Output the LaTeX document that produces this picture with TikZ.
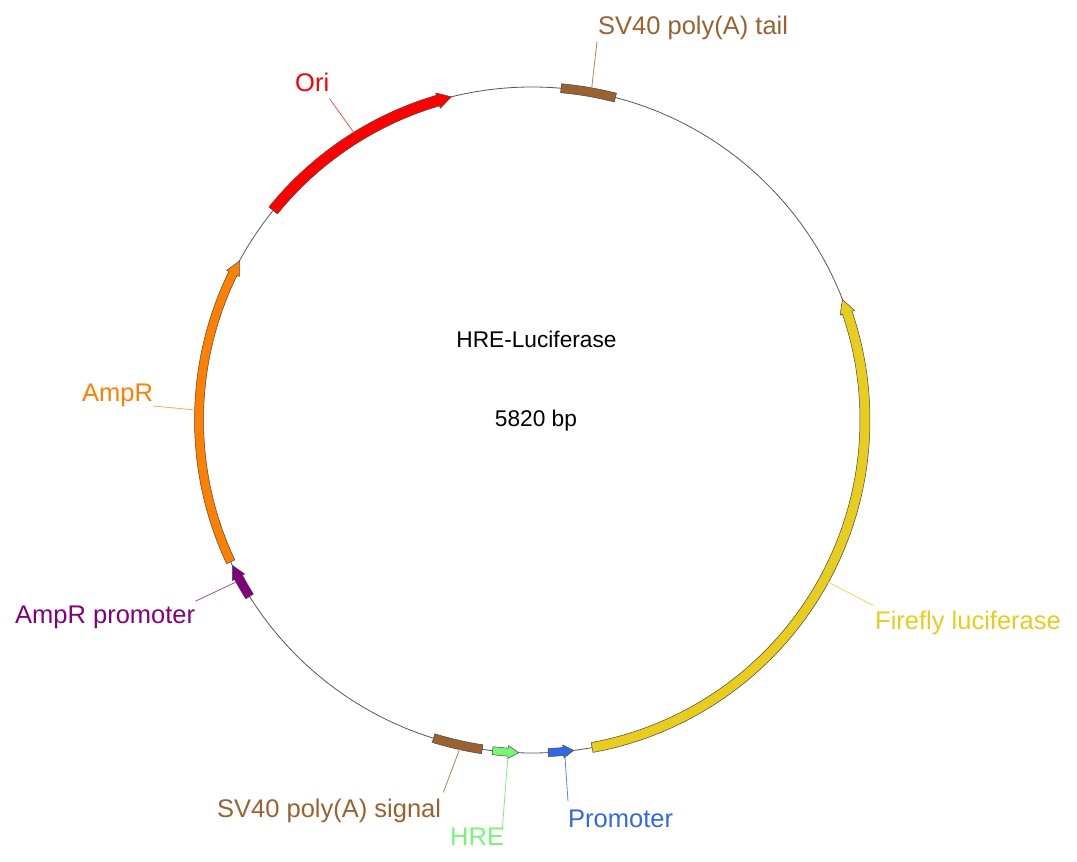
\documentclass[tikz,border=0pt]{standalone}
\usepackage{fontspec}
\setmainfont{Liberation Sans}

\definecolor{backbone}{RGB}{85,85,85}
\definecolor{featedge}{RGB}{70,70,70}
\definecolor{oriRed}{RGB}{255,0,0}
\definecolor{svBrown}{RGB}{153,98,48}
\definecolor{ampOrange}{RGB}{255,128,0}
\definecolor{ampPurple}{RGB}{128,0,128}
\definecolor{lucYellow}{RGB}{232,204,30}
\definecolor{hreGreen}{RGB}{120,245,120}
\definecolor{promBlue}{RGB}{50,105,225}

\def\R{333}

% directional feature: start angle, tip angle, colour, half width, head length (deg), head flare
\newcommand\featarrow[6]{%
  \pgfmathsetmacro\hbase{#2 - (#2 > #1 ? 1 : -1)*#5}%
  \pgfmathsetmacro\ro{\R+#4}%
  \pgfmathsetmacro\ri{\R-#4}%
  \pgfmathsetmacro\hro{\R+#4+#6}%
  \pgfmathsetmacro\hri{\R-#4-#6}%
  \filldraw[feature, fill=#3]
    (#1:\ro) arc[start angle=#1, end angle=\hbase, radius=\ro]
    -- (\hbase:\hro) -- (#2:\R) -- (\hbase:\hri) -- (\hbase:\ri)
    arc[start angle=\hbase, end angle=#1, radius=\ri] -- cycle;
}
% non-directional feature: start angle, end angle, colour, half width
\newcommand\featbar[4]{%
  \pgfmathsetmacro\ro{\R+#4}%
  \pgfmathsetmacro\ri{\R-#4}%
  \filldraw[feature, fill=#3]
    (#1:\ro) arc[start angle=#1, end angle=#2, radius=\ro]
    -- (#2:\ri) arc[start angle=#2, end angle=#1, radius=\ri] -- cycle;
}

\tikzset{
  feature/.style={draw=featedge, line width=0.5pt},
  lbl/.style={font=\fontsize{25.5}{30}\selectfont, inner sep=0pt, anchor=base west},
  title/.style={font=\fontsize{22.7}{27}\selectfont, inner sep=0pt, anchor=base, text=black},
  leader/.style={line width=0.8pt},
}

\begin{document}
\begin{tikzpicture}[x=1pt, y=1pt]
\useasboundingbox (-532,-442) rectangle (545,420);

% backbone
\draw[backbone, line width=0.8pt] (0,0) circle[radius=\R];

% features
\featarrow{141}{104}{oriRed}{5.5}{2.4}{2.5}
\featbar{85}{75.5}{svBrown}{4.5}
\featarrow{-79.6}{21.2}{lucYellow}{5}{2.4}{2.5}
\featarrow{-87.2}{-82.8}{promBlue}{4}{1.8}{2.5}
\featarrow{-96.8}{-92.3}{hreGreen}{4}{1.8}{2.5}
\featbar{-107.2}{-98.6}{svBrown}{4.5}
\featarrow{212}{205.9}{ampPurple}{4.5}{2.3}{2.5}
\featarrow{205.2}{151.5}{ampOrange}{4.5}{2.4}{2.5}

% attachment points of the leader lines
\coordinate (ori-pt)  at (121.8:338);
\coordinate (tail-pt) at (79.8:337);
\coordinate (amp-pt)  at (178.3:337);
\coordinate (ampp-pt) at (208.7:337);
\coordinate (luc-pt)  at (-28.7:338);
\coordinate (sig-pt)  at (-102.4:337);
\coordinate (hre-pt)  at (-94.1:337);
\coordinate (prom-pt) at (-84.4:337);

% title
\node[title] (name) at (4.5,72) {HRE-Luciferase};
\node[title] (size) at (4,-7) {5820 bp};

% labels
\node[lbl, text=oriRed]    (ori-lbl)  at (-237,328)  {Ori};
\node[lbl, text=svBrown]   (tail-lbl) at (66,385)    {SV40 poly(A) tail};
\node[lbl, text=ampOrange] (amp-lbl)  at (-450,18)   {AmpR};
\node[lbl, text=ampPurple] (ampp-lbl) at (-517,-203) {AmpR promoter};
\node[lbl, text=lucYellow] (luc-lbl)  at (343,-209)  {Firefly luciferase};
\node[lbl, text=svBrown]   (sig-lbl)  at (-315,-397) {SV40 poly(A) signal};
\node[lbl, text=hreGreen]  (hre-lbl)  at (-82,-425)  {HRE};
\node[lbl, text=promBlue]  (prom-lbl) at (36,-407)   {Promoter};

% leader lines
\draw[leader, oriRed!70]    ([yshift=-6pt]ori-lbl.south east) -- (ori-pt);
\draw[leader, svBrown!80]   ([shift={(-1pt,-1pt)}]tail-lbl.south west) -- (tail-pt);
\draw[leader, ampOrange!70] ([yshift=1.5pt]amp-lbl.south east) -- (amp-pt);
\draw[leader, ampPurple!70] ([yshift=4pt]ampp-lbl.north east) -- (ampp-pt);
\draw[leader, lucYellow!80] ([shift={(-2pt,5pt)}]luc-lbl.north west) -- (luc-pt);
\draw[leader, svBrown!80]   ([shift={(2pt,6pt)}]sig-lbl.north east) -- (sig-pt);
\draw[leader, hreGreen]     ([shift={(-2pt,-3pt)}]hre-lbl.north east) -- (hre-pt);
\draw[leader, promBlue!80]  ([yshift=8pt]prom-lbl.north west) -- (prom-pt);
\end{tikzpicture}
\end{document}
